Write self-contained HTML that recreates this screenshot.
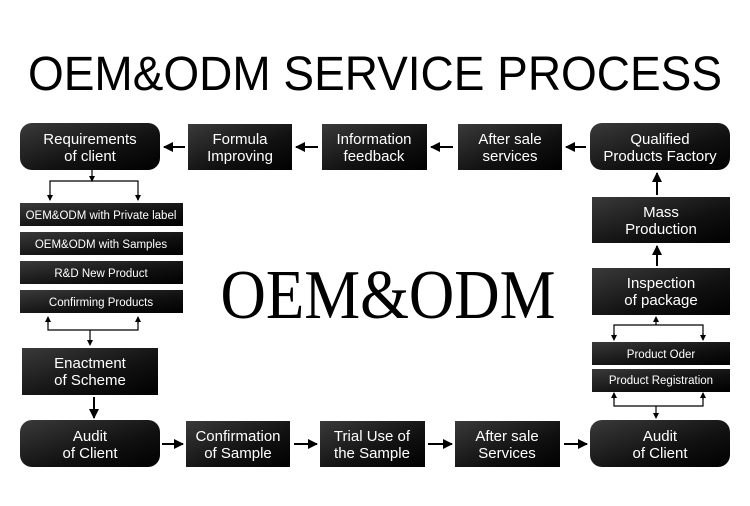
<!DOCTYPE html>
<html><head><meta charset="utf-8"><style>
html,body{margin:0;padding:0;background:#fff;}
svg{display:block;}
text{font-family:"Liberation Sans",sans-serif;fill:#fff;text-anchor:middle;}
</style></head><body>
<svg width="750" height="506" viewBox="0 0 750 506" xmlns="http://www.w3.org/2000/svg">
<defs>
<linearGradient id="g" x1="0" y1="0" x2="1" y2="1">
<stop offset="0" stop-color="#3a3a3a"/><stop offset="0.6" stop-color="#111"/><stop offset="1" stop-color="#000"/>
</linearGradient>
<marker id="a" markerWidth="6" markerHeight="6" refX="5" refY="3" orient="auto" markerUnits="userSpaceOnUse"><path d="M0,0 L6,3 L0,6 z" fill="#000"/></marker>
<marker id="b" markerWidth="10" markerHeight="10" refX="9" refY="5" orient="auto" markerUnits="userSpaceOnUse"><path d="M0,0 L10,5 L0,10 z" fill="#000"/></marker>
</defs>
<text x="375" y="90" style="fill:#000;font-size:48px" textLength="694" lengthAdjust="spacingAndGlyphs">OEM&amp;ODM SERVICE PROCESS</text>
<text x="388" y="318" style="fill:#000;font-family:'Liberation Serif',serif;font-size:70px" textLength="335" lengthAdjust="spacingAndGlyphs">OEM&amp;ODM</text>

<g fill="url(#g)">
<rect x="20" y="123" width="140" height="47" rx="12"/>
<rect x="188" y="124" width="104" height="46"/>
<rect x="322" y="124" width="105" height="46"/>
<rect x="458" y="124" width="104" height="46"/>
<rect x="590" y="123" width="140" height="47" rx="12"/>
<rect x="20" y="203" width="163" height="23"/>
<rect x="20" y="232" width="163" height="23"/>
<rect x="20" y="261" width="163" height="23"/>
<rect x="20" y="290" width="163" height="23"/>
<rect x="22" y="348" width="136" height="47"/>
<rect x="20" y="420" width="140" height="47" rx="12"/>
<rect x="186" y="421" width="104" height="46"/>
<rect x="320" y="421" width="105" height="46"/>
<rect x="455" y="421" width="105" height="46"/>
<rect x="590" y="420" width="140" height="47" rx="12"/>
<rect x="592" y="197" width="138" height="46"/>
<rect x="592" y="268" width="138" height="47"/>
<rect x="592" y="342" width="138" height="23"/>
<rect x="592" y="369" width="138" height="23"/>
</g>

<g style="font-size:15px">
<text x="90" y="144">Requirements</text><text x="90" y="161">of client</text>
<text x="240" y="144">Formula</text><text x="240" y="161">Improving</text>
<text x="374" y="144">Information</text><text x="374" y="161">feedback</text>
<text x="510" y="144">After sale</text><text x="510" y="161">services</text>
<text x="660" y="144">Qualified</text><text x="660" y="161">Products Factory</text>
<text x="90" y="368">Enactment</text><text x="90" y="385">of Scheme</text>
<text x="90" y="441">Audit</text><text x="90" y="458">of Client</text>
<text x="238" y="441">Confirmation</text><text x="238" y="458">of Sample</text>
<text x="372" y="441">Trial Use of</text><text x="372" y="458">the Sample</text>
<text x="507" y="441">After sale</text><text x="507" y="458">Services</text>
<text x="660" y="441">Audit</text><text x="660" y="458">of Client</text>
<text x="661" y="217">Mass</text><text x="661" y="234">Production</text>
<text x="661" y="288">Inspection</text><text x="661" y="305">of package</text>
</g>
<g style="font-size:11.5px">
<text x="101" y="219">OEM&amp;ODM with Private label</text>
<text x="101" y="248">OEM&amp;ODM with Samples</text>
<text x="101" y="277">R&amp;D New Product</text>
<text x="101" y="306">Confirming Products</text>
<text x="661" y="358">Product Oder</text>
<text x="661" y="384">Product Registration</text>
</g>

<g stroke="#000" stroke-width="2" fill="none">
<line x1="185" y1="147" x2="164" y2="147" marker-end="url(#b)"/>
<line x1="318" y1="147" x2="296" y2="147" marker-end="url(#b)"/>
<line x1="453" y1="147" x2="431" y2="147" marker-end="url(#b)"/>
<line x1="586" y1="147" x2="566" y2="147" marker-end="url(#b)"/>
<line x1="657" y1="195" x2="657" y2="173" marker-end="url(#b)"/>
<line x1="657" y1="266" x2="657" y2="246" marker-end="url(#b)"/>
<line x1="94" y1="397" x2="94" y2="418" marker-end="url(#b)"/>
<line x1="162" y1="444" x2="183" y2="444" marker-end="url(#b)"/>
<line x1="294" y1="444" x2="317" y2="444" marker-end="url(#b)"/>
<line x1="428" y1="444" x2="452" y2="444" marker-end="url(#b)"/>
<line x1="564" y1="444" x2="587" y2="444" marker-end="url(#b)"/>
</g>
<g stroke="#000" stroke-width="1.2" fill="none">
<line x1="92" y1="170" x2="92" y2="181" marker-end="url(#a)"/>
<polyline points="50,200 50,181 138,181 138,200"/>
<line x1="50" y1="194" x2="50" y2="200" marker-end="url(#a)"/>
<line x1="138" y1="194" x2="138" y2="200" marker-end="url(#a)"/>
<polyline points="48,318 48,330 138,330 138,318"/>
<line x1="48" y1="324" x2="48" y2="317" marker-end="url(#a)"/>
<line x1="138" y1="324" x2="138" y2="317" marker-end="url(#a)"/>
<line x1="90" y1="330" x2="90" y2="345" marker-end="url(#a)"/>
<line x1="656" y1="325" x2="656" y2="317" marker-end="url(#a)"/>
<polyline points="614,339 614,325 703,325 703,339"/>
<line x1="614" y1="333" x2="614" y2="340" marker-end="url(#a)"/>
<line x1="703" y1="333" x2="703" y2="340" marker-end="url(#a)"/>
<polyline points="614,394 614,406 703,406 703,394"/>
<line x1="614" y1="400" x2="614" y2="393" marker-end="url(#a)"/>
<line x1="703" y1="400" x2="703" y2="393" marker-end="url(#a)"/>
<line x1="656" y1="406" x2="656" y2="418" marker-end="url(#a)"/>
</g>
</svg>
</body></html>
